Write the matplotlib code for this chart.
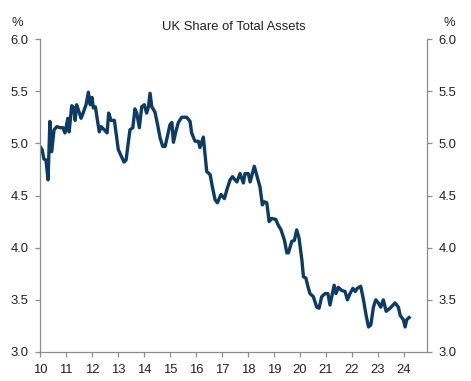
import matplotlib
matplotlib.use("Agg")
import matplotlib.pyplot as plt
import numpy as np

plt.rcParams['font.family'] = ['Liberation Sans', 'DejaVu Sans']

title = "UK Share of Total Assets"
x_ticks = [10, 11, 12, 13, 14, 15, 16, 17, 18, 19, 20, 21, 22, 23, 24]
x_tick_labels = [str(t) for t in x_ticks]
y_ticks = [3.0, 3.5, 4.0, 4.5, 5.0, 5.5, 6.0]

dates = [10.00, 10.08, 10.15, 10.23, 10.31, 10.38, 10.45, 10.54, 10.65, 10.77,
         10.88, 10.96, 11.07, 11.12, 11.22, 11.30, 11.35, 11.41, 11.49, 11.58,
         11.67, 11.77, 11.86, 11.93, 12.00, 12.05, 12.13, 12.19, 12.28, 12.35,
         12.47, 12.58, 12.64, 12.73, 12.86, 13.01, 13.12, 13.23, 13.31, 13.38,
         13.46, 13.57, 13.65, 13.72, 13.82, 13.91, 14.01, 14.10, 14.17, 14.23,
         14.30, 14.42, 14.52, 14.62, 14.72, 14.81, 14.90, 15.00, 15.07, 15.13,
         15.23, 15.32, 15.45, 15.54, 15.64, 15.77, 15.83, 15.96, 16.09, 16.15,
         16.28, 16.41, 16.54, 16.63, 16.73, 16.82, 16.96, 17.09, 17.19, 17.31,
         17.40, 17.57, 17.69, 17.82, 17.88, 18.01, 18.08, 18.24, 18.35, 18.46,
         18.55, 18.63, 18.72, 18.81, 18.91, 19.07, 19.15, 19.27, 19.40, 19.49,
         19.55, 19.68, 19.78, 19.87, 19.96, 20.07, 20.13, 20.22, 20.31, 20.38,
         20.51, 20.64, 20.73, 20.83, 20.96, 21.07, 21.15, 21.31, 21.38, 21.47,
         21.60, 21.73, 21.82, 21.92, 22.03, 22.12, 22.20, 22.33, 22.43, 22.54,
         22.63, 22.72, 22.82, 22.91, 23.01, 23.10, 23.20, 23.31, 23.46, 23.65,
         23.78, 23.85, 23.97, 24.04, 24.10, 24.19]

uk_share = [4.97, 4.94, 4.85, 4.84, 4.65, 5.21, 4.92, 5.13, 5.16, 5.15,
            5.15, 5.10, 5.24, 5.11, 5.36, 5.34, 5.22, 5.37, 5.31, 5.24,
            5.30, 5.37, 5.49, 5.37, 5.44, 5.34, 5.35, 5.25, 5.11, 5.16,
            5.13, 5.10, 5.29, 5.22, 5.22, 4.94, 4.88, 4.82, 4.84, 4.98,
            5.13, 5.15, 5.33, 5.29, 5.15, 5.35, 5.37, 5.29, 5.35, 5.48,
            5.35, 5.30, 5.18, 5.05, 4.97, 4.97, 5.07, 5.18, 5.20, 5.01,
            5.12, 5.20, 5.25, 5.25, 5.25, 5.21, 5.10, 5.02, 5.02, 4.96,
            5.06, 4.73, 4.70, 4.58, 4.46, 4.43, 4.51, 4.47, 4.56, 4.65,
            4.68, 4.63, 4.71, 4.62, 4.71, 4.71, 4.63, 4.78, 4.68, 4.58,
            4.41, 4.44, 4.43, 4.25, 4.28, 4.27, 4.22, 4.17, 4.07, 3.95,
            3.95, 4.06, 4.07, 4.17, 4.09, 3.88, 3.72, 3.71, 3.62, 3.56,
            3.53, 3.43, 3.42, 3.53, 3.56, 3.56, 3.45, 3.64, 3.56, 3.62,
            3.59, 3.58, 3.50, 3.56, 3.61, 3.58, 3.61, 3.63, 3.51, 3.35,
            3.24, 3.26, 3.43, 3.50, 3.47, 3.43, 3.50, 3.39, 3.42, 3.47,
            3.43, 3.35, 3.31, 3.24, 3.31, 3.33]

line_color = '#0C3B66'
axis_color = '#8C8C8C'
text_color = '#222222'
fs = 9.4

fig = plt.figure(figsize=(4.71, 3.81), dpi=100)
ax = fig.add_axes([40 / 471, 1 - 352 / 381, (427 - 40) / 471, (352 - 39) / 381])

ax.plot(dates, uk_share, color=line_color, linewidth=2.4, solid_joinstyle='round')

ax.set_xlim(10, 24.88)
ax.set_ylim(3.0, 6.0)
ax.set_xticks(x_ticks)
ax.set_xticklabels(x_tick_labels)
ax.set_yticks(y_ticks)
ax.set_yticklabels([f"{v:.1f}" for v in y_ticks])

ax.spines['top'].set_visible(False)
for s in ['left', 'right', 'bottom']:
    ax.spines[s].set_color(axis_color)
    ax.spines[s].set_linewidth(0.9)

ax.tick_params(axis='both', which='both', direction='out', length=3.5,
               width=0.9, color=axis_color, labelsize=fs, labelcolor=text_color, pad=5)
ax.tick_params(axis='y', right=True, labelright=True)

fig.text(17 / 471, 1 - 23 / 381, "%", ha='center', va='center', fontsize=fs, color=text_color)
fig.text(449 / 471, 1 - 23 / 381, "%", ha='center', va='center', fontsize=fs, color=text_color)
fig.text(233.5 / 471, 1 - 27 / 381, title, ha='center', va='center', fontsize=fs, color=text_color)

fig.savefig("out.png", dpi=100)
